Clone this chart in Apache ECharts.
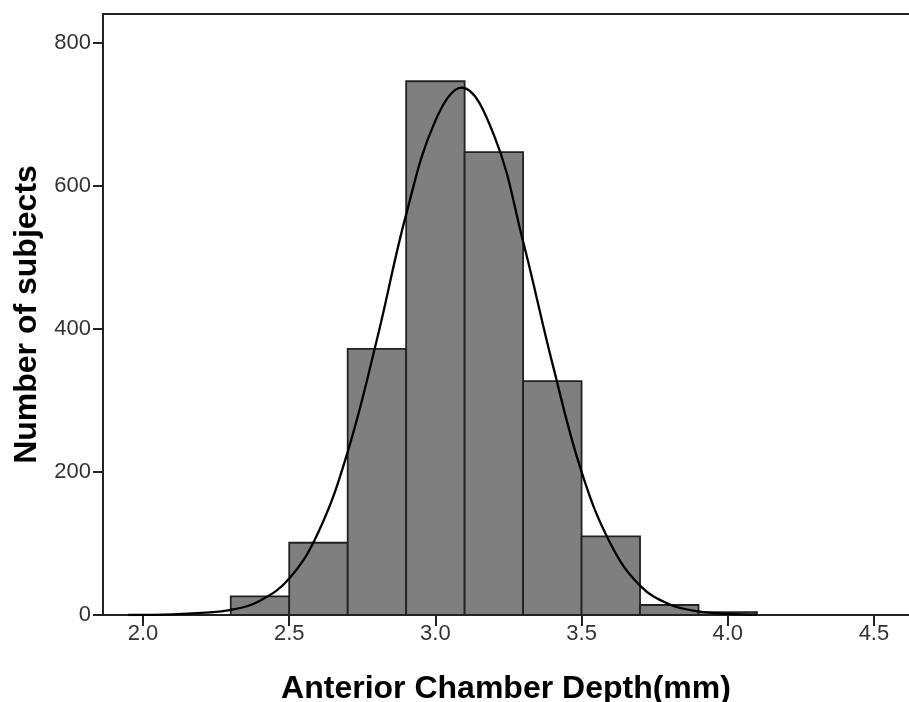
<!DOCTYPE html>
<html>
<head>
<meta charset="utf-8">
<script src="https://cdn.jsdelivr.net/npm/echarts@6/dist/echarts.min.js"></script>
<style>
  html, body { margin: 0; padding: 0; background: #fff; }
  #chart { width: 909px; height: 702px; }
</style>
</head>
<body>
<div id="chart"></div>
<script>
// histogram bins (mm) and counts
const binEdges = [2.3, 2.5, 2.7, 2.9, 3.1, 3.3, 3.5, 3.7, 3.9, 4.1]
const counts = [26, 101, 372, 746, 647, 327, 110, 14, 4]

// fitted normal curve
const curveX = [1.95, 2.1, 2.2, 2.3, 2.4, 2.5, 2.6, 2.7, 2.8, 2.9, 3.0, 3.09, 3.2, 3.3, 3.4, 3.5, 3.6, 3.7, 3.8, 3.9, 4.0, 4.1]
const curveY = [0, 1, 3, 7, 20, 51, 116, 228, 385, 560, 691, 737, 671, 522, 352, 200, 99, 41, 15, 5, 1.5, 0.4]

const xTicks = [2.0, 2.5, 3.0, 3.5, 4.0, 4.5]
const yTicks = [0, 200, 400, 600, 800]

const bins = counts.map((c, i) => [binEdges[i], binEdges[i + 1], c])
const curve = curveX.map((x, i) => [x, curveY[i]])

const labelFont = '"Liberation Sans Narrow", "Liberation Sans", Arial, sans-serif'
const titleFont = '"Liberation Sans", Arial, sans-serif'

const chart = echarts.init(document.getElementById('chart'))
chart.setOption({
  animation: false,
  grid: { left: 103, right: 0, top: 14, bottom: 87, outerBoundsMode: 'none', containLabel: false },
  xAxis: [{
    type: 'value',
    min: 1.863,
    max: 4.62,
    name: 'Anterior Chamber Depth(mm)',
    nameLocation: 'middle',
    nameGap: 58,
    nameTextStyle: { fontFamily: titleFont, fontWeight: 'bold', fontSize: 32, color: '#000' },
    axisLine: { lineStyle: { color: '#222', width: 2 } },
    axisTick: { customValues: xTicks, length: 11, lineStyle: { color: '#222', width: 2 } },
    axisLabel: {
      customValues: xTicks,
      formatter: v => v.toFixed(1),
      fontFamily: labelFont, fontSize: 22, color: '#333', margin: 8
    },
    splitLine: { show: false }
  }, {
    type: 'value',
    position: 'top',
    min: 1.863,
    max: 4.62,
    axisLine: { show: true, lineStyle: { color: '#222', width: 2 } },
    axisTick: { show: false },
    axisLabel: { show: false },
    splitLine: { show: false }
  }],
  yAxis: {
    type: 'value',
    min: 0,
    max: 840,
    name: 'Number of subjects',
    nameLocation: 'middle',
    nameGap: 60,
    nameTextStyle: { fontFamily: titleFont, fontWeight: 'bold', fontSize: 32, color: '#000' },
    axisLine: { show: true, lineStyle: { color: '#222', width: 2 } },
    axisTick: { show: true, customValues: yTicks, length: 10, lineStyle: { color: '#222', width: 2 } },
    axisLabel: { customValues: yTicks, fontFamily: labelFont, fontSize: 22, color: '#333', margin: 12 },
    splitLine: { show: false }
  },
  series: [{
    type: 'custom',
    data: bins,
    encode: { x: [0, 1], y: 2 },
    renderItem: (params, api) => {
      const p0 = api.coord([api.value(0), api.value(2)])
      const p1 = api.coord([api.value(1), 0])
      return {
        type: 'rect',
        shape: { x: p0[0], y: p0[1], width: p1[0] - p0[0], height: p1[1] - p0[1] },
        style: { fill: '#7f7f7f', stroke: '#222', lineWidth: 1.8 }
      }
    }
  }, {
    type: 'line',
    data: curve,
    smooth: 0.4,
    showSymbol: false,
    lineStyle: { color: '#000', width: 2.3 },
    z: 5
  }]
})
</script>
</body>
</html>
